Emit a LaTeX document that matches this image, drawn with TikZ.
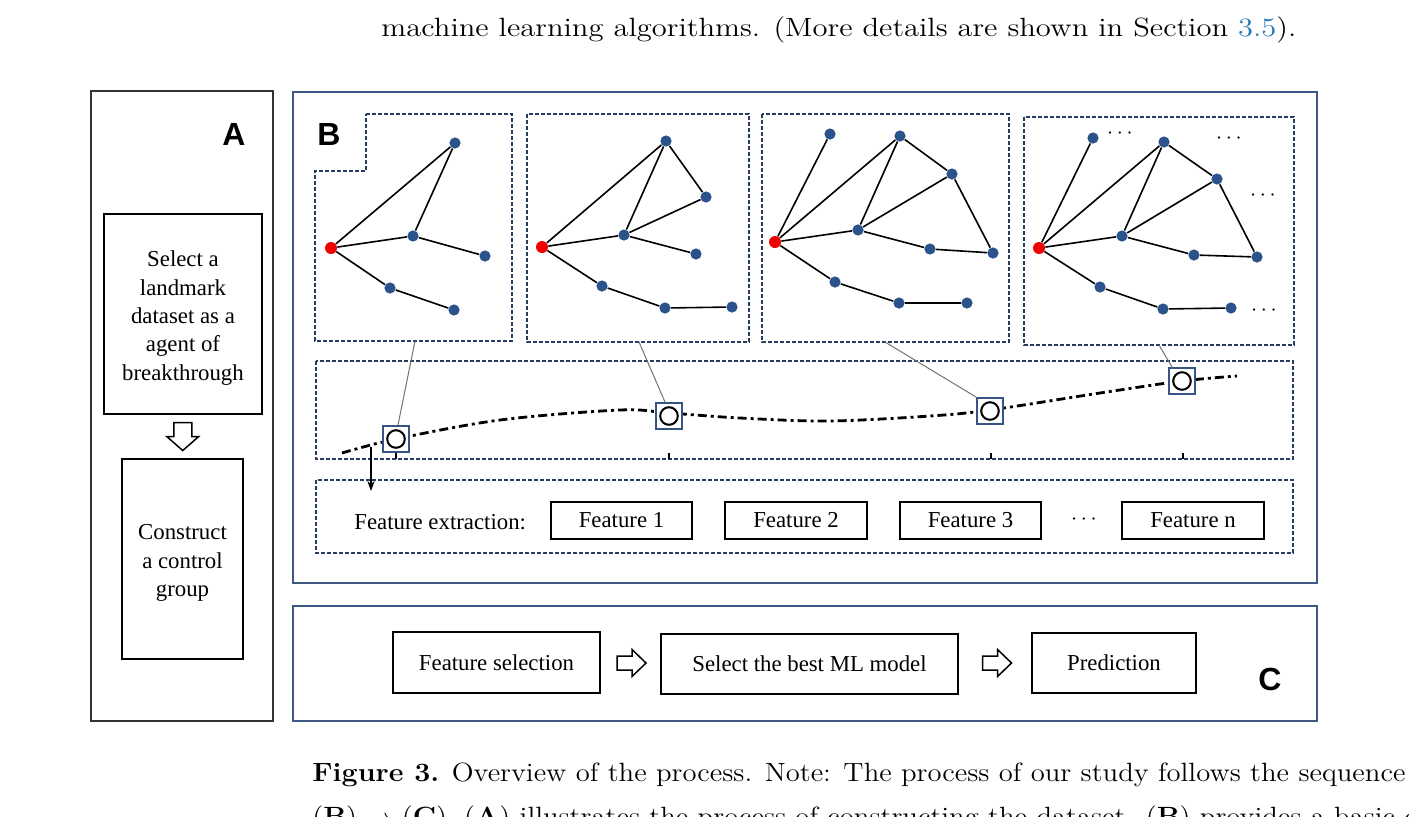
\documentclass[tikz,border=0pt]{standalone}
\usepackage{fontspec}
\usepackage{graphicx}
\newfontfamily\tnr{Liberation Serif}
\newfontfamily\arl{Liberation Sans}
\usetikzlibrary{calc,arrows.meta}
\definecolor{panelblue}{RGB}{62,90,132}
\definecolor{dashblue}{RGB}{38,60,96}
\definecolor{dotblue}{RGB}{44,82,140}
\definecolor{dotred}{RGB}{240,0,0}
\definecolor{linkblue}{RGB}{35,120,180}
\definecolor{sqblue}{RGB}{55,85,130}
\newsavebox\capA
\newsavebox\capB
\newsavebox\topT
\begin{document}
\sbox\capA{\fontsize{13.2}{16}\selectfont\textbf{Figure 3.} Overview of the process. Note: The process of our study follows the sequence}%
\sbox\capB{\fontsize{13.2}{16}\selectfont(\textbf{B}) $\rightarrow$ (\textbf{C}). (\textbf{A}) illustrates the process of constructing the dataset. (\textbf{B}) provides a basic description of the}%
\sbox\topT{\fontsize{13.2}{16}\selectfont machine learning algorithms. (More details are shown in Section \textcolor{linkblue}{3.5}).}%
\begin{tikzpicture}[x=0.5pt,y=-0.5pt,
  panel/.style={draw=panelblue, line width=1pt},
  dbox/.style={draw=dashblue, line width=0.8pt, dash pattern=on 2pt off 1pt},
  blk/.style={draw=black, line width=0.75pt, fill=white, inner sep=0pt, align=center,
              font=\tnr\fontsize{11.4}{14.2}\selectfont},
  txt/.style={inner sep=0pt, align=center, font=\tnr\fontsize{11.4}{14.2}\selectfont},
  lab/.style={inner sep=0pt, font=\arl\bfseries\fontsize{16}{16}\selectfont},
  bdot/.style={circle, fill=dotblue, inner sep=0pt, minimum size=5.6pt},
  rdot/.style={circle, fill=dotred, inner sep=0pt, minimum size=6pt},
  edge/.style={line width=0.8pt, black},
  conn/.style={line width=0.5pt, draw=black!55},
  hollow/.style={draw=black, line width=0.75pt, fill=white},
  sq/.style={draw=sqblue, line width=1pt, fill=white, inner sep=0pt, minimum size=13pt},
  ring/.style={circle, draw=black, line width=1pt, inner sep=0pt, minimum width=8.2pt, minimum height=8.8pt},
  tick/.style={line width=0.6pt, black},
  dashdot/.style={line width=1.4pt, black, dash pattern=on 4.5pt off 2pt on 1.5pt off 2pt},
  ell/.style={inner sep=0pt, font=\fontsize{11}{11}\selectfont}
]
\useasboundingbox (0,0) rectangle (1409,816);
\fill[white] (0,0) rectangle (1409,816);
\clip (0,0) rectangle (1409,816);

% ---------- page text ----------
\node[anchor=base west, inner sep=0pt] (toptext) at (381,36) {\resizebox{457.5pt}{\height}{\usebox\topT}};
\node[anchor=base west, inner sep=0pt] (cap1) at (312,781) {\resizebox{546.5pt}{\height}{\usebox\capA}};
\node[anchor=base west, inner sep=0pt] (cap2) at (312,825) {\resizebox{\dimexpr 546.5pt*\wd\capB/\wd\capA\relax}{\height}{\usebox\capB}};

% ---------- panel A ----------
\draw[draw=black!80, line width=0.7pt] (91,91) rectangle (273,721);
\node[lab] (labA) at (234,134) {A};
\node[blk, minimum width=79pt, minimum height=100pt] (sel) at (183,314) {};
\node[txt] (selt) at (183,318) {Select a\\landmark\\dataset as a\\agent of\\breakthrough};
\node[blk, minimum width=60.5pt, minimum height=100pt] (con) at (182.5,559) {};
\node[txt] (cont) at (182.5,563) {Construct\\a control\\group};
\coordinate (darr) at ($(sel.south)!0.5!(con.north)$);
\draw[hollow] ($(darr)+(-9,-14)$) -- ++(18,0) -- ++(0,14) -- ++(7,0) -- ++(-16,14) -- ++(-16,-14) -- ++(7,0) -- cycle;

% ---------- panel B ----------
\draw[panel] (293,92) rectangle (1317,583);
\node[lab] (labB) at (329,134.5) {B};

% graph boxes
\draw[dbox] (366,114) -- (512,114) -- (512,341) -- (315,341) -- (315,171) -- (366,171) -- cycle;
\draw[dbox] (527,114) rectangle (749,342);
\draw[dbox] (762,114) rectangle (1009,342);
\draw[dbox] (1024,117) rectangle (1294,345);

% graph 1
\node[rdot] (g1r) at (331,248) {};
\node[bdot] (g1a) at (413,236) {};
\node[bdot] (g1t) at (455,143) {};
\node[bdot] (g1p) at (485,256) {};
\node[bdot] (g1l) at (390,288) {};
\node[bdot] (g1q) at (454,310) {};
\draw[edge] (g1r)--(g1t) (g1r)--(g1a) (g1a)--(g1t) (g1a)--(g1p) (g1r)--(g1l) (g1l)--(g1q);

% graph 2
\node[rdot] (g2r) at (542,247) {};
\node[bdot] (g2a) at (624,235) {};
\node[bdot] (g2t) at (666,141) {};
\node[bdot] (g2u) at (706,197) {};
\node[bdot] (g2p) at (696,254) {};
\node[bdot] (g2l) at (602,286) {};
\node[bdot] (g2m) at (665,308) {};
\node[bdot] (g2q) at (732,307) {};
\draw[edge] (g2r)--(g2t) (g2r)--(g2a) (g2a)--(g2t) (g2t)--(g2u) (g2a)--(g2u) (g2a)--(g2p)
            (g2r)--(g2l) (g2l)--(g2m) (g2m)--(g2q);

% graph 3
\node[rdot] (g3r) at (775,242) {};
\node[bdot] (g3s) at (830,134) {};
\node[bdot] (g3t) at (900,136) {};
\node[bdot] (g3u) at (952,174) {};
\node[bdot] (g3a) at (858,230) {};
\node[bdot] (g3c) at (930,249) {};
\node[bdot] (g3p) at (993,253) {};
\node[bdot] (g3l) at (835,282) {};
\node[bdot] (g3m) at (899,303) {};
\node[bdot] (g3q) at (967,303) {};
\draw[edge] (g3r)--(g3s) (g3r)--(g3t) (g3r)--(g3a) (g3a)--(g3t) (g3t)--(g3u) (g3a)--(g3u)
            (g3u)--(g3p) (g3a)--(g3c) (g3c)--(g3p) (g3r)--(g3l) (g3l)--(g3m) (g3m)--(g3q);

% graph 4
\node[rdot] (g4r) at (1039,248) {};
\node[bdot] (g4s) at (1093,138) {};
\node[bdot] (g4t) at (1164,142) {};
\node[bdot] (g4u) at (1217,179) {};
\node[bdot] (g4a) at (1122,236) {};
\node[bdot] (g4c) at (1194,255) {};
\node[bdot] (g4p) at (1257,257) {};
\node[bdot] (g4l) at (1100,287) {};
\node[bdot] (g4m) at (1163,309) {};
\node[bdot] (g4q) at (1231,308) {};
\draw[edge] (g4r)--(g4s) (g4r)--(g4t) (g4r)--(g4a) (g4a)--(g4t) (g4t)--(g4u) (g4a)--(g4u)
            (g4u)--(g4p) (g4a)--(g4c) (g4c)--(g4p) (g4r)--(g4l) (g4l)--(g4m) (g4m)--(g4q);
\node[ell] (e1) at (1120,134) {$\cdots$};
\node[ell] (e2) at (1229,139) {$\cdots$};
\node[ell] (e3) at (1263,196) {$\cdots$};
\node[ell] (e4) at (1264,311) {$\cdots$};

% timeline band
\draw[dbox] (316,361) rectangle (1293,459);
\draw[dashdot] plot[smooth, tension=0.55] coordinates {(342,453) (396,439) (500,420) (620,410) (669,413) (740,418) (829,421) (930,416) (990,410) (1100,393) (1182,381) (1237,376)};
\draw[tick] (396,453) -- (396,459);
\draw[tick] (669,453) -- (669,459);
\draw[tick] (991,453) -- (991,459);
\draw[tick] (1183,453) -- (1183,459);

\node[sq] (sq1) at (396,439) {};
\node[sq] (sq2) at (669,416) {};
\node[sq] (sq3) at (990,411) {};
\node[sq] (sq4) at (1182,381) {};
\node[ring] (r1) at (sq1.center) {};
\node[ring] (r2) at (sq2.center) {};
\node[ring] (r3) at (sq3.center) {};
\node[ring] (r4) at (sq4.center) {};

\coordinate (b1) at (415,341);
\coordinate (b2) at (639,342);
\coordinate (b3) at (885,342);
\coordinate (b4) at (1159,345);
\draw[conn] (b1) -- ($(sq1.north)+(2,0)$);
\draw[conn] (b2) -- ($(sq2.north)+(-4,0)$);
\draw[conn] (b3) -- (sq3.north west);
\draw[conn] (b4) -- ($(sq4.north west)+(4,0)$);

% feature extraction band
\draw[dbox] (316,480) rectangle (1293,553);
\coordinate (ds) at (371,447);
\coordinate (de) at (371,491);
\draw[line width=0.6pt, -{Stealth[length=5pt,width=3.6pt]}] (ds) -- (de);
\node[txt, anchor=west] (fe) at (354,522) {Feature extraction:};
\node[blk, minimum width=70.5pt, minimum height=18.5pt] (f1) at (621.5,520.5) {Feature 1};
\node[blk, minimum width=71pt, minimum height=18.5pt] (f2) at (796,520.5) {Feature 2};
\node[blk, minimum width=70.5pt, minimum height=18.5pt] (f3) at (970.5,520.5) {Feature 3};
\node[ell] (fdots) at (1084,520) {$\cdots$};
\node[blk, minimum width=71pt, minimum height=18.5pt] (fn) at (1193,520.5) {Feature n};

% ---------- panel C ----------
\draw[panel] (293,606) rectangle (1317,721);
\node[lab] (labC) at (1270,679) {C};
\node[blk, minimum width=103.5pt, minimum height=30.5pt] (fs) at (496.5,662.5) {Feature selection};
\node[blk, minimum width=148.5pt, minimum height=30pt] (ml) at (809.5,664) {Select the best ML model};
\node[blk, minimum width=82pt, minimum height=30pt] (pr) at (1114,663) {Prediction};
\coordinate (ha1) at (631.5,663);
\coordinate (ha2) at (997,663);
\draw[hollow] ($(ha1)+(-14.5,-7)$) -- ++(15,0) -- ++(0,-6.5) -- ++(14,13.5) -- ++(-14,13.5) -- ++(0,-6.5) -- ++(-15,0) -- cycle;
\draw[hollow] ($(ha2)+(-14.5,-7)$) -- ++(15,0) -- ++(0,-6.5) -- ++(14,13.5) -- ++(-14,13.5) -- ++(0,-6.5) -- ++(-15,0) -- cycle;
\end{tikzpicture}
\end{document}
